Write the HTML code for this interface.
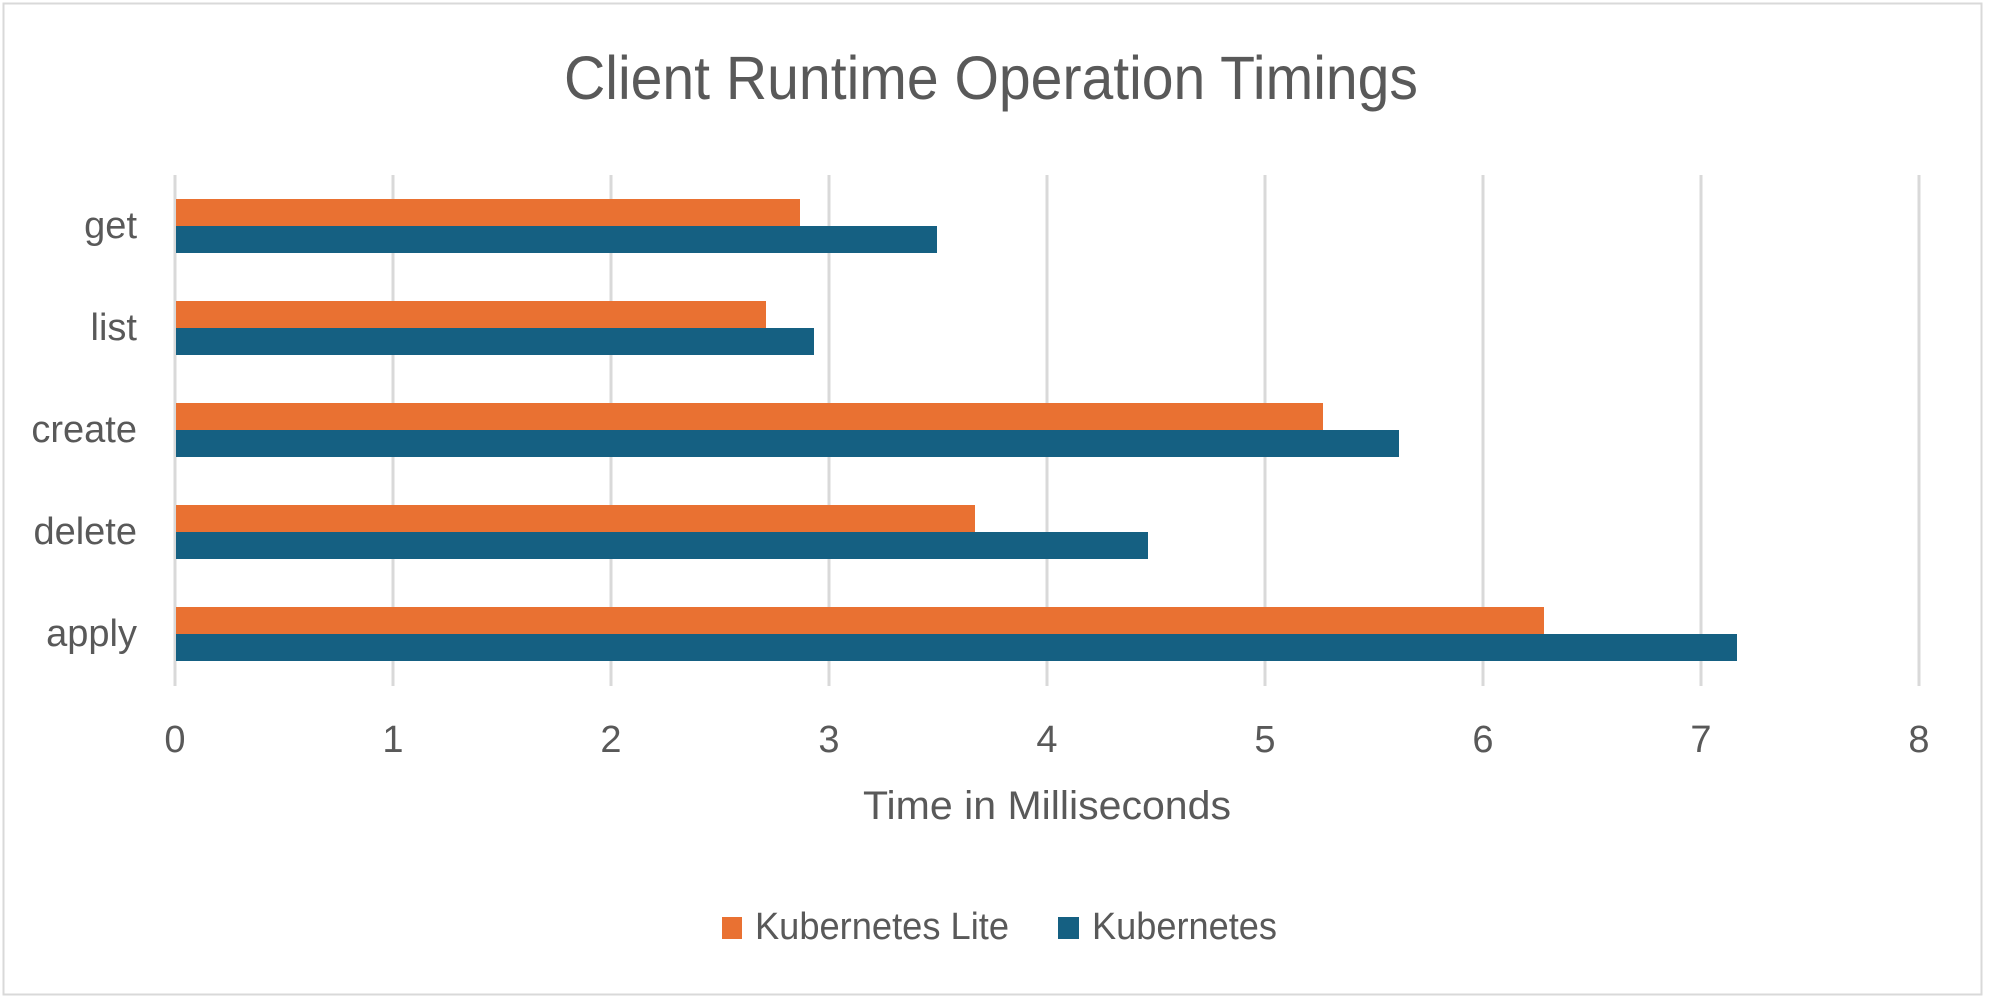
<!DOCTYPE html>
<html><head><meta charset="utf-8"><style>html,body{margin:0;padding:0;background:#fff}svg{display:block}</style></head>
<body>
<svg width="1989" height="1003" viewBox="0 0 1989 1003" xmlns="http://www.w3.org/2000/svg" font-family="Liberation Sans, sans-serif" fill="#595959">
<rect x="0" y="0" width="1989" height="1003" fill="#fff"/>
<rect x="3.5" y="3.5" width="1978" height="991" fill="none" stroke="#d9d9d9" stroke-width="2"/>
<text x="991" y="99" font-size="61" text-anchor="middle" textLength="854" lengthAdjust="spacingAndGlyphs">Client Runtime Operation Timings</text>
<g stroke="#d9d9d9" stroke-width="3">
<line x1="175" y1="175" x2="175" y2="686"/>
<line x1="393" y1="175" x2="393" y2="686"/>
<line x1="611" y1="175" x2="611" y2="686"/>
<line x1="829" y1="175" x2="829" y2="686"/>
<line x1="1047" y1="175" x2="1047" y2="686"/>
<line x1="1265" y1="175" x2="1265" y2="686"/>
<line x1="1483" y1="175" x2="1483" y2="686"/>
<line x1="1701" y1="175" x2="1701" y2="686"/>
<line x1="1919" y1="175" x2="1919" y2="686"/>
</g>
<g>
<rect x="176" y="199" width="624" height="27" fill="#e97132"/>
<rect x="176" y="226" width="761" height="27" fill="#156082"/>
<rect x="176" y="301" width="590" height="27" fill="#e97132"/>
<rect x="176" y="328" width="638" height="27" fill="#156082"/>
<rect x="176" y="403" width="1147" height="27" fill="#e97132"/>
<rect x="176" y="430" width="1223" height="27" fill="#156082"/>
<rect x="176" y="505" width="799" height="27" fill="#e97132"/>
<rect x="176" y="532" width="972" height="27" fill="#156082"/>
<rect x="176" y="607" width="1368" height="27" fill="#e97132"/>
<rect x="176" y="634" width="1561" height="27" fill="#156082"/>
</g>
<g font-size="38" text-anchor="end">
<text x="137" y="238">get</text>
<text x="137" y="340">list</text>
<text x="137" y="442">create</text>
<text x="137" y="544">delete</text>
<text x="137" y="646">apply</text>
</g>
<g font-size="38" text-anchor="middle">
<text x="175" y="752">0</text><text x="393" y="752">1</text><text x="611" y="752">2</text>
<text x="829" y="752">3</text><text x="1047" y="752">4</text><text x="1265" y="752">5</text>
<text x="1483" y="752">6</text><text x="1701" y="752">7</text><text x="1919" y="752">8</text>
</g>
<text x="1047" y="819" font-size="40" text-anchor="middle" textLength="368" lengthAdjust="spacingAndGlyphs">Time in Milliseconds</text>
<rect x="722" y="917" width="20" height="22" fill="#e97132"/>
<text x="755" y="939" font-size="38" textLength="254" lengthAdjust="spacingAndGlyphs">Kubernetes Lite</text>
<rect x="1058" y="917" width="21" height="22" fill="#156082"/>
<text x="1092" y="939" font-size="38" textLength="185" lengthAdjust="spacingAndGlyphs">Kubernetes</text>
</svg>
</body></html>
